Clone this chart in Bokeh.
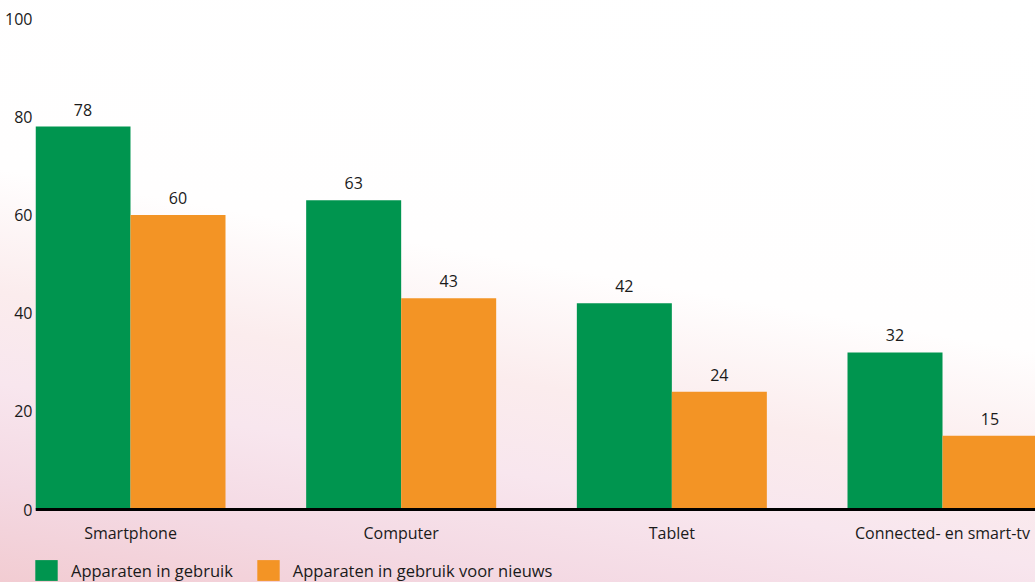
import numpy as np
from bokeh.plotting import figure
from bokeh.models import ColumnDataSource, Range1d, FixedTicker, Legend, LegendItem
from bokeh.core.properties import value
from bokeh.embed import file_html
from bokeh.resources import INLINE

# ---- data ----
categories = ["Smartphone", "Computer", "Tablet", "Connected- en smart-tv"]
in_gebruik = [78, 63, 42, 32]
voor_nieuws = [60, 43, 24, 15]
series_names = ["Apparaten in gebruik", "Apparaten in gebruik voor nieuws"]
y_ticks = [0, 20, 40, 60, 80, 100]

# ---- style ----
GREEN = "#00954f"
ORANGE = "#f39425"
FONT = "Open Sans"
TXT = "#1a1a1a"
FS = "16px"
W = 0.351          # bar width in group units
PX_PER_UNIT = 4.91  # vertical scale (pixels per percent)

idx = np.arange(len(categories))
src = ColumnDataSource(dict(
    xg=idx - W / 2, xo=idx + W / 2,
    g=in_gebruik, o=voor_nieuws,
    gl=[str(v) for v in in_gebruik], ol=[str(v) for v in voor_nieuws],
))

p = figure(width=1035, height=582, output_backend="svg", toolbar_location=None,
           x_range=Range1d(-W, -W + 1000 / 270.67),
           y_range=Range1d(-73 / PX_PER_UNIT, 100),
           min_border_left=35, min_border_right=0, min_border_top=18, min_border_bottom=0)
p.styles = {"background": "linear-gradient(190deg, #ffffff 0%, #fffefe 46%, #fbeced 62%, #f8e6ee 74%, #f4d9e3 87%, #f2ccd2 100%)"}
p.border_fill_alpha = 0
p.background_fill_alpha = 0
p.outline_line_color = None
p.grid.visible = False

rg = p.vbar(x="xg", top="g", width=W, bottom=0, source=src, fill_color=GREEN, line_color=None)
ro = p.vbar(x="xo", top="o", width=W, bottom=0, source=src, fill_color=ORANGE, line_color=None)

for xc, yc, lc in (("xg", "g", "gl"), ("xo", "o", "ol")):
    p.text(x=xc, y=yc, text=lc, source=src,
           text_align="center", text_baseline="bottom", y_offset=-11,
           text_font=value(FONT), text_font_size=FS, text_color=TXT)

# y axis
ya = p.yaxis[0]
ya.ticker = FixedTicker(ticks=y_ticks)
ya.axis_line_color = None
ya.major_tick_line_color = None
ya.minor_tick_line_color = None
ya.major_tick_out = 0
ya.major_tick_in = 0
ya.minor_tick_out = 0
ya.major_label_standoff = 3
ya.major_label_text_font = FONT
ya.major_label_text_font_size = FS
ya.major_label_text_color = TXT

# x axis, drawn at y = 0 inside the frame
xa = p.xaxis[0]
xa.fixed_location = 0
xa.ticker = FixedTicker(ticks=list(idx))
xa.major_label_overrides = {int(i): c for i, c in zip(idx, categories)}
xa.axis_line_color = "black"
xa.axis_line_width = 3
xa.major_tick_line_color = None
xa.minor_tick_line_color = None
xa.major_tick_out = 0
xa.major_tick_in = 0
xa.minor_tick_out = 0
xa.major_label_standoff = 12
xa.major_label_text_font = FONT
xa.major_label_text_font_size = FS
xa.major_label_text_color = TXT

legend = Legend(items=[LegendItem(label=series_names[0], renderers=[rg]),
                       LegendItem(label=series_names[1], renderers=[ro])],
                location=(-3, -1), orientation="horizontal",
                glyph_width=28, glyph_height=26, label_standoff=11, spacing=21,
                padding=0, margin=0, border_line_color=None, background_fill_alpha=0,
                label_text_font=FONT, label_text_font_size="16.5px", label_text_color=TXT)
p.add_layout(legend, "center")

open("out.html", "w").write(file_html(p, INLINE))
